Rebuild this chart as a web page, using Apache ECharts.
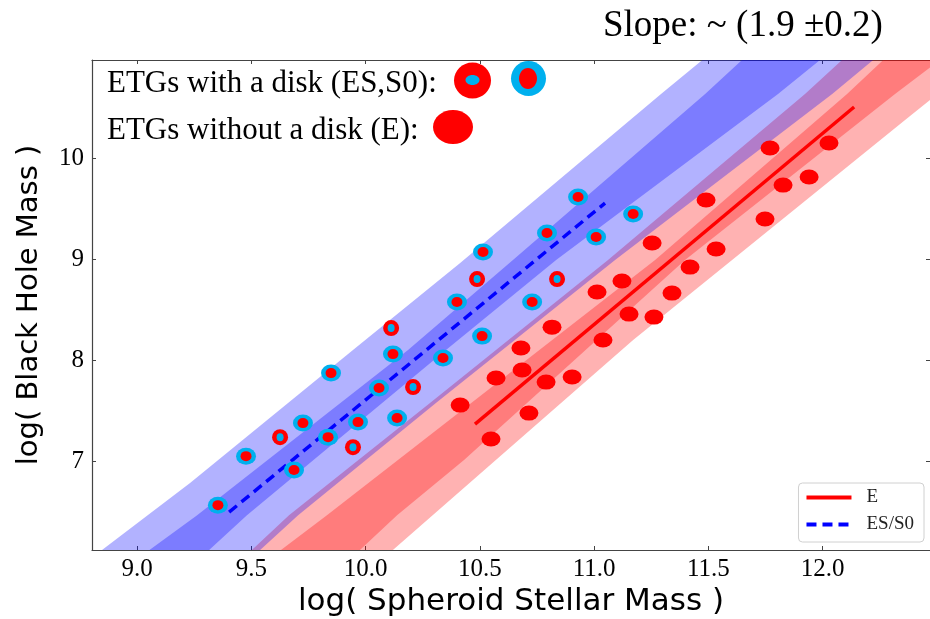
<!DOCTYPE html>
<html>
<head>
<meta charset="utf-8">
<script src="https://cdn.jsdelivr.net/npm/echarts@6/dist/echarts.min.js"></script>
<style>
  html, body { margin: 0; padding: 0; background: #fff; }
  #chart { width: 930px; height: 619px; }
</style>
</head>
<body>
<div id="chart"></div>
<script>
// axis ticks
const xTicks = [9.0, 9.5, 10.0, 10.5, 11.0, 11.5, 12.0];
const yTicks = [7, 8, 9, 10];

// ETGs with a disk, cyan ring / red core  [log M*, log Mbh]
const diskRingPoints = [
  [9.354, 6.564], [9.477, 7.049], [9.687, 6.911], [9.726, 7.376], [9.836, 7.237],
  [9.849, 7.871], [9.967, 7.386], [10.059, 7.723], [10.120, 8.059], [10.138, 7.426],
  [10.339, 8.020], [10.400, 8.574], [10.510, 8.237], [10.514, 9.069], [10.729, 8.574],
  [10.794, 9.257], [10.930, 9.614], [11.009, 9.218], [11.171, 9.445]
];
// ETGs with a disk, red ring / cyan core
const diskCorePoints = [
  [9.626, 7.237], [9.945, 7.138], [10.112, 8.317], [10.208, 7.733],
  [10.488, 8.802], [10.838, 8.802]
];
// ETGs without a disk (E)
const ellipticalPoints = [
  [10.414, 7.554], [10.549, 7.218], [10.571, 7.822], [10.680, 8.119], [10.685, 7.901],
  [10.715, 7.475], [10.790, 7.782], [10.816, 8.326], [10.904, 7.832], [11.013, 8.673],
  [11.039, 8.198], [11.122, 8.782], [11.153, 8.455], [11.254, 9.158], [11.262, 8.425],
  [11.341, 8.663], [11.420, 8.920], [11.490, 9.584], [11.534, 9.099], [11.748, 9.396],
  [11.770, 10.099], [11.827, 9.732], [11.941, 9.812], [12.028, 10.148]
];

// fit lines
const eFitLine = [[10.479, 7.366], [12.138, 10.505]];
const s0FitLine = [[9.403, 6.495], [11.048, 9.554]];

// band edges (bottom -> top)
const redOuterLeft = [[9.446, 6.0], [9.665, 6.465], [10.282, 7.574], [11.061, 8.990], [11.923, 10.633], [12.147, 11.099]];
const redOuterRight = [[10.059, 6.0], [11.171, 8.198], [11.604, 8.990], [12.361, 10.376], [12.759, 11.099]];
const redInnerLeft = [[9.560, 6.0], [9.831, 6.465], [11.267, 8.990], [12.107, 10.633], [12.326, 11.099]];
const redInnerRight = [[9.919, 6.0], [10.138, 6.465], [10.431, 7.010], [11.398, 8.990], [12.317, 10.633], [12.589, 11.099]];
const blueOuterLeft = [[8.777, 6.0], [9.232, 6.782], [9.945, 8.099], [10.414, 8.960], [11.293, 10.633], [11.543, 11.099]];
const blueOuterRight = [[9.481, 6.0], [9.705, 6.465], [10.308, 7.574], [11.092, 8.990], [12.042, 10.633], [12.290, 11.099]];
const blueInnerLeft = [[8.982, 6.0], [9.263, 6.465], [10.186, 8.099], [10.645, 8.990], [11.486, 10.633], [11.709, 11.099]];
const blueInnerRight = [[9.258, 6.0], [9.481, 6.465], [10.352, 8.099], [10.834, 8.990], [11.805, 10.633], [12.059, 11.099]];

const RED = '#ff0000';
const CYAN = '#00b0ee';
const SERIF = '"Liberation Serif", "Times New Roman", serif';
const SANS = '"DejaVu Sans", sans-serif';

const bandSeries = (left, right, color) => ({
  type: 'custom',
  silent: true,
  clip: true,
  z: 1,
  data: [[left[0][0], left[0][1]]],
  renderItem: (params, api) => ({
    type: 'polygon',
    shape: { points: left.concat(right.slice().reverse()).map((p) => api.coord(p)) },
    style: { fill: color },
  }),
});

const scatter = (data, size, color, z) => ({
  type: 'scatter',
  data: data,
  symbol: 'circle',
  symbolSize: size,
  itemStyle: { color: color, opacity: 1 },
  silent: true,
  z: z,
});

const chart = echarts.init(document.getElementById('chart'), null, { renderer: 'canvas' });

const axisCommon = {
  type: 'value',
  splitLine: { show: false },
  axisLine: { show: true, lineStyle: { color: '#444', width: 1.2 } },
  axisTick: { show: true, inside: true, length: 4, lineStyle: { color: '#444', width: 1 } },
};

chart.setOption({
  animation: false,
  backgroundColor: '#fff',
  grid: { left: 92, right: 0, top: 60, bottom: 69, outerBoundsMode: 'none' },
  xAxis: [
    {
      ...axisCommon,
      min: 8.803, max: 12.47,
      position: 'bottom',
      axisTick: { ...axisCommon.axisTick, customValues: xTicks },
      axisLabel: {
        customValues: xTicks,
        formatter: (v) => v.toFixed(1),
        fontFamily: SERIF, fontSize: 25, color: '#000', margin: 7,
      },
      name: 'log( Spheroid Stellar Mass )',
      nameLocation: 'middle',
      nameGap: 35,
      nameTextStyle: { fontFamily: SANS, fontSize: 31, color: '#000' },
    },
    {
      ...axisCommon,
      min: 8.803, max: 12.47,
      position: 'top',
      axisTick: { ...axisCommon.axisTick, customValues: xTicks },
      axisLabel: { show: false },
    },
  ],
  yAxis: [
    {
      ...axisCommon,
      min: 6.12, max: 10.97,
      position: 'left',
      axisTick: { ...axisCommon.axisTick, customValues: yTicks },
      axisLabel: {
        customValues: yTicks,
        formatter: (v) => String(Math.round(v)),
        fontFamily: SERIF, fontSize: 25, color: '#000', margin: 8,
      },
      name: 'log( Black Hole Mass )',
      nameLocation: 'middle',
      nameGap: 48,
      nameTextStyle: { fontFamily: SANS, fontSize: 29, color: '#000' },
    },
    {
      ...axisCommon,
      min: 6.12, max: 10.97,
      position: 'right',
      axisLine: { show: false },
      axisTick: { ...axisCommon.axisTick, customValues: yTicks },
      axisLabel: { show: false },
    },
  ],
  legend: {
    data: ['E', 'ES/S0'],
    orient: 'vertical',
    right: 6,
    bottom: 77,
    itemWidth: 45,
    itemHeight: 14,
    itemGap: 8,
    padding: [5, 10, 8, 6],
    backgroundColor: 'rgba(255,255,255,0.85)',
    borderColor: '#d0d0d0',
    borderWidth: 1,
    borderRadius: 4,
    itemStyle: { opacity: 0 },
    lineStyle: { width: 4 },
    textStyle: { fontFamily: SERIF, fontSize: 19, color: '#222', padding: [0, 0, 0, 10] },
  },
  graphic: [
    {
      type: 'text', left: 603, top: 8, z: 10,
      style: { text: 'Slope: ~ (1.9 \u00b10.2)', font: '37px ' + SERIF, fill: '#000' },
    },
    {
      type: 'text', left: 107, top: 68, z: 10,
      style: { text: 'ETGs with a disk (ES,S0):', font: '31px ' + SERIF, fill: '#000' },
    },
    {
      type: 'text', left: 107, top: 115, z: 10,
      style: { text: 'ETGs without a disk (E):', font: '31px ' + SERIF, fill: '#000' },
    },
    { type: 'ellipse', z: 10, shape: { cx: 472.5, cy: 80.5, rx: 18.5, ry: 18 }, style: { fill: RED } },
    { type: 'ellipse', z: 11, shape: { cx: 472.5, cy: 80, rx: 7, ry: 5 }, style: { fill: CYAN } },
    { type: 'ellipse', z: 10, shape: { cx: 528.5, cy: 78.5, rx: 17.5, ry: 17.5 }, style: { fill: CYAN } },
    { type: 'ellipse', z: 11, shape: { cx: 528, cy: 78.5, rx: 9, ry: 10.5 }, style: { fill: RED } },
    { type: 'ellipse', z: 10, shape: { cx: 453, cy: 127, rx: 20, ry: 17 }, style: { fill: RED } },
  ],
  series: [
    bandSeries(redOuterLeft, redOuterRight, 'rgba(255,0,0,0.3)'),
    bandSeries(redInnerLeft, redInnerRight, 'rgba(255,0,0,0.3)'),
    bandSeries(blueOuterLeft, blueOuterRight, 'rgba(0,0,255,0.3)'),
    bandSeries(blueInnerLeft, blueInnerRight, 'rgba(0,0,255,0.3)'),
    {
      name: 'E',
      type: 'line',
      data: eFitLine,
      symbol: 'none',
      lineStyle: { color: RED, width: 3.5 },
      itemStyle: { color: RED },
      z: 3,
    },
    {
      name: 'ES/S0',
      type: 'line',
      data: s0FitLine,
      symbol: 'none',
      lineStyle: { color: '#0000ff', width: 3.5, type: [10, 6] },
      itemStyle: { color: '#0000ff' },
      z: 3,
    },
    scatter(ellipticalPoints, [19, 15], RED, 4),
    scatter(diskRingPoints, [20, 17], CYAN, 4),
    scatter(diskRingPoints, [11, 10], RED, 5),
    scatter(diskCorePoints, [16, 16], RED, 4),
    scatter(diskCorePoints, [7, 8], CYAN, 5),
  ],
});
</script>
</body>
</html>
